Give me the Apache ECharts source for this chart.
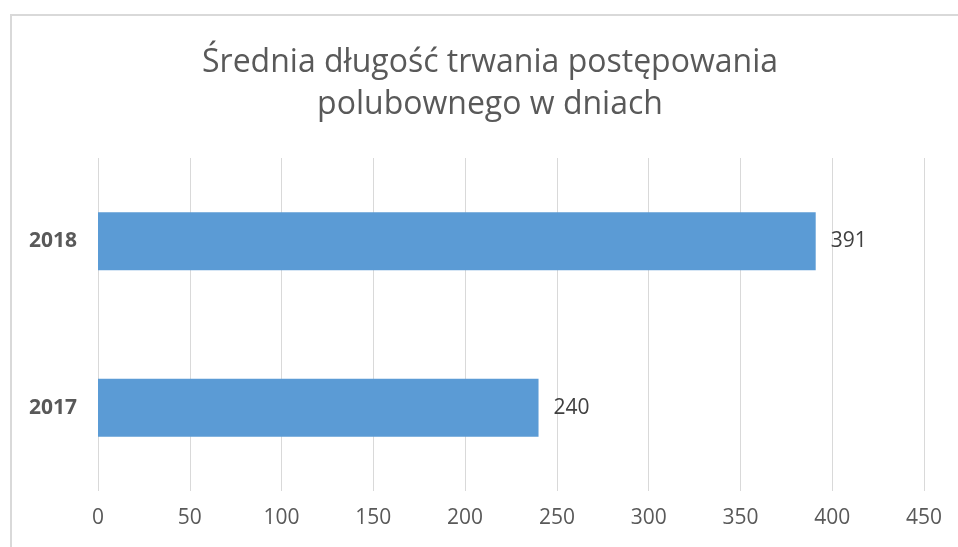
<!DOCTYPE html>
<html>
<head>
<meta charset="utf-8">
<script src="https://cdn.jsdelivr.net/npm/echarts@6/dist/echarts.min.js"></script>
<style>
    html, body { margin: 0; padding: 0; background: #fff; }
    #chart { width: 958px; height: 547px; }
</style>
</head>
<body>
<div id="chart"></div>
<script>
// dane
const categories = ["2017", "2018"];
const values = [240, 391];
const titleText = "Średnia długość trwania postępowania\npolubownego w dniach";

const fontFamily = "Open Sans";
const chart = echarts.init(document.getElementById("chart"));

chart.setOption({
    backgroundColor: "#fff",
    animation: false,
    title: {
        text: titleText,
        left: 490,
        top: 42,
        padding: 0,
        textAlign: "center",
        textStyle: {
            color: "#595959",
            fontFamily: fontFamily,
            fontWeight: "normal",
            fontSize: 32,
            lineHeight: 42
        }
    },
    graphic: [
        {
            // ramka wykresu
            type: "rect",
            silent: true,
            shape: { x: 11, y: 15, width: 1000, height: 600 },
            style: { fill: "none", stroke: "#d9d9d9", lineWidth: 2 }
        }
    ],
    grid: {
        left: 98,
        right: 34,
        top: 158,
        bottom: 56,
        containLabel: false
    },
    xAxis: {
        type: "value",
        min: 0,
        max: 450,
        interval: 50,
        axisLine: { show: false },
        axisTick: { show: false },
        splitLine: {
            show: true,
            lineStyle: { color: "#d9d9d9", width: 1 }
        },
        axisLabel: {
            margin: 17,
            color: "#595959",
            fontFamily: fontFamily,
            fontSize: 21
        }
    },
    yAxis: {
        type: "category",
        data: categories,
        axisLine: { show: false },
        axisTick: { show: false },
        axisLabel: {
            margin: 21,
            color: "#595959",
            fontFamily: fontFamily,
            fontWeight: "bold",
            fontSize: 21
        }
    },
    series: [
        {
            type: "bar",
            data: values,
            barWidth: 58,
            itemStyle: { color: "#5b9bd5" },
            label: {
                show: true,
                position: "right",
                distance: 15,
                color: "#404040",
                fontFamily: fontFamily,
                fontSize: 21
            }
        }
    ]
});
</script>
</body>
</html>
